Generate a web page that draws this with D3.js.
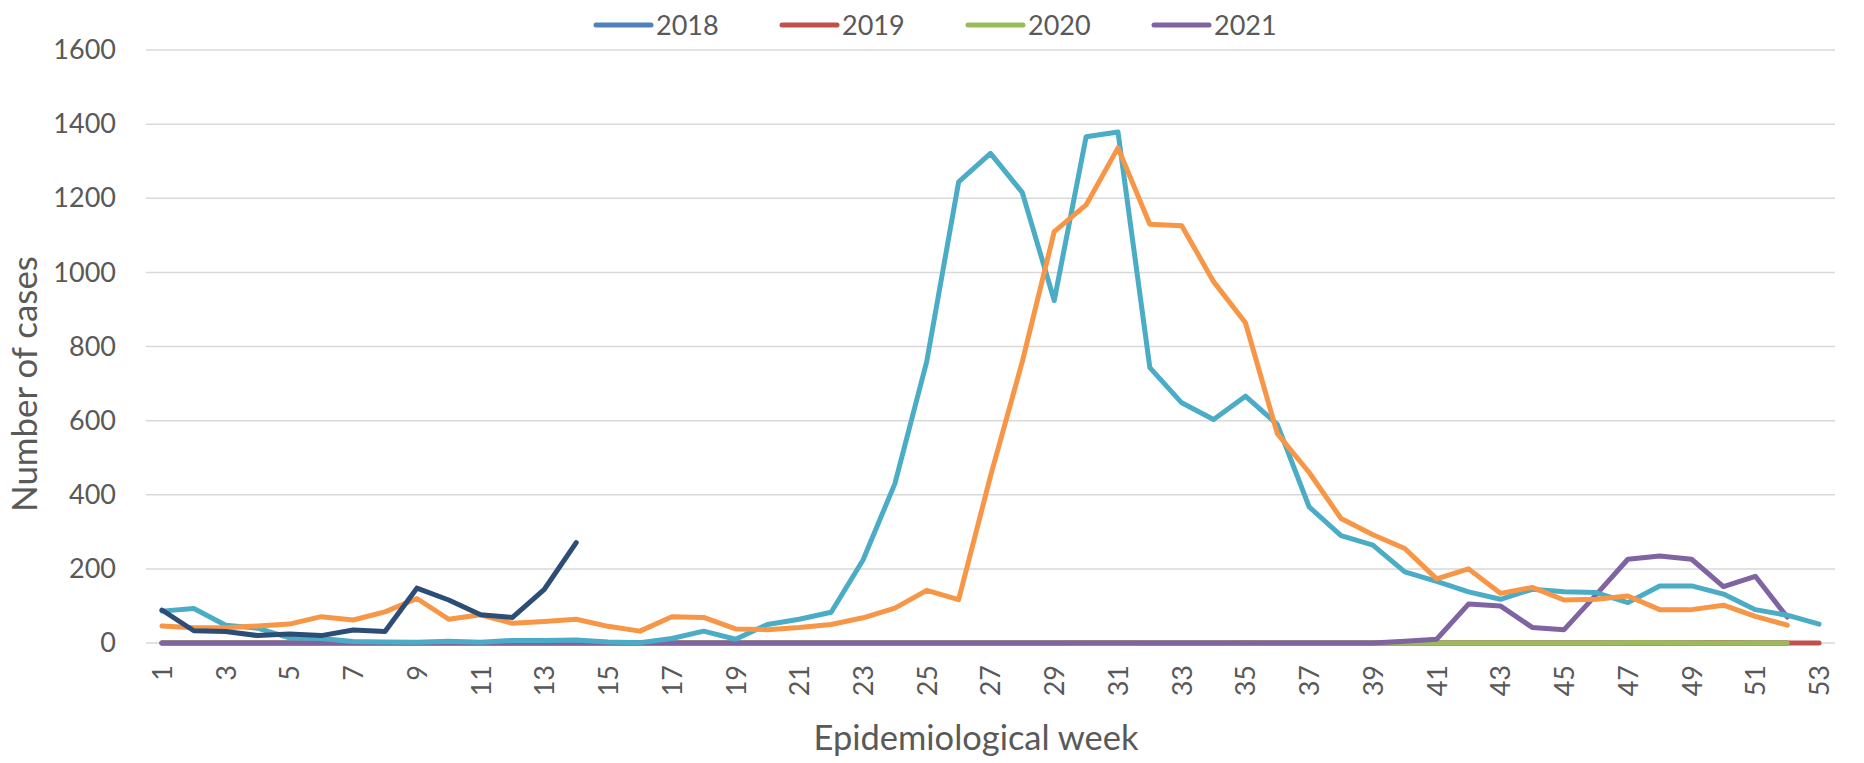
<!DOCTYPE html>
<html>
<head>
<meta charset="utf-8">
<script src="https://cdn.jsdelivr.net/npm/d3@7"></script>
<style>
  body { margin: 0; background: #fff; }
  svg text { font-family: Lato, "Open Sans", sans-serif; fill: #595959; }
</style>
</head>
<body>
<svg id="chart" width="1864" height="763"></svg>
<script>
// Epidemiological weeks (categories)
const weeks = [1, 2, 3, 4, 5, 6, 7, 8, 9, 10, 11, 12, 13, 14, 15, 16, 17, 18, 19, 20,
  21, 22, 23, 24, 25, 26, 27, 28, 29, 30, 31, 32, 33, 34, 35, 36, 37, 38, 39, 40,
  41, 42, 43, 44, 45, 46, 47, 48, 49, 50, 51, 52, 53];

const yTicks = [0, 200, 400, 600, 800, 1000, 1200, 1400, 1600];

// Weekly case counts per year
const cases2018 = [0, 0, 0, 0, 0, 0, 0, 0, 0, 0, 0, 0, 0, 0, 0, 0, 0, 0, 0, 0,
  0, 0, 0, 0, 0, 0, 0, 0, 0, 0, 0, 0, 0, 0, 0, 0, 0, 0, 0, 0,
  0, 0, 0, 0, 0, 0, 0, 0, 0, 0, 0, 0];
const cases2019 = [0, 0, 0, 0, 0, 0, 0, 0, 0, 0, 0, 0, 0, 0, 0, 0, 0, 0, 0, 0,
  0, 0, 0, 0, 0, 0, 0, 0, 0, 1, 1, 0, 0, 0, 1, 0, 0, 0, 0, 0,
  0, 0, 0, 0, 0, 0, 0, 0, 0, 1, 0, 0, 0];
const cases2020 = [0, 0, 0, 0, 0, 0, 0, 0, 0, 0, 0, 0, 0, 0, 0, 0, 0, 0, 0, 0,
  0, 0, 0, 0, 0, 0, 0, 0, 0, 0, 0, 0, 0, 0, 0, 0, 0, 0, 0, 0,
  0, 0, 0, 0, 0, 0, 1, 1, 0, 0, 0, 0];
const cases2021 = [0, 0, 0, 0, 0, 0, 0, 0, 0, 0, 0, 0, 0, 0, 0, 0, 0, 0, 0, 0,
  0, 0, 0, 0, 0, 0, 0, 0, 0, 0, 0, 0, 0, 0, 0, 0, 0, 0, 0, 5,
  10, 105, 100, 42, 36, 130, 226, 235, 226, 152, 180, 70];
const cases2022 = [86, 93, 48, 40, 14, 12, 4, 3, 2, 5, 2, 7, 7, 8, 3, 1, 12, 32, 10, 50,
  64, 83, 224, 430, 760, 1244, 1321, 1215, 924, 1366, 1379, 743, 648, 603, 666, 590, 367, 290, 264, 192,
  166, 138, 118, 145, 138, 136, 109, 154, 154, 132, 90, 75, 51];
const cases2023 = [46, 41, 41, 46, 51, 71, 62, 84, 120, 64, 76, 53, 58, 64, 45, 32, 71, 69, 38, 36,
  42, 50, 68, 94, 142, 117, 450, 760, 1110, 1182, 1336, 1130, 1126, 975, 864, 565, 460, 336, 292, 255,
  173, 200, 134, 150, 116, 118, 127, 90, 90, 102, 72, 48];
const cases2024 = [89, 33, 31, 20, 24, 20, 35, 31, 148, 116, 76, 69, 145, 271];

const series = [
  { name: "2018", values: cases2018, color: "#4F81BD", legend: true },
  { name: "2019", values: cases2019, color: "#C0504D", legend: true },
  { name: "2020", values: cases2020, color: "#9BBB59", legend: true },
  { name: "2021", values: cases2021, color: "#8064A2", legend: true },
  { name: "2022", values: cases2022, color: "#4BACC6", legend: false },
  { name: "2023", values: cases2023, color: "#F79646", legend: false },
  { name: "2024", values: cases2024, color: "#2C4D75", legend: false }
];

const svg = d3.select("#chart");

const x = d3.scalePoint().domain(weeks).range([146, 1835]).padding(0.5);
const y = d3.scaleLinear().domain([0, 1600]).range([643, 50]);

// Gridlines
svg.append("g")
  .selectAll("line")
  .data(yTicks)
  .enter()
  .append("line")
  .attr("x1", 146)
  .attr("x2", 1835)
  .attr("y1", d => y(d))
  .attr("y2", d => y(d))
  .attr("stroke", "#D9D9D9")
  .attr("stroke-width", 1.5);

// Y axis labels
const yAxis = svg.append("g")
  .attr("transform", "translate(146,0)")
  .call(d3.axisLeft(y).tickValues(yTicks).tickFormat(d3.format("d")).tickSize(0).tickPadding(30));
yAxis.select(".domain").remove();
yAxis.selectAll("text").style("font-size", "27px");

// X axis labels, odd weeks only, rotated
const xAxis = svg.append("g")
  .attr("transform", "translate(0,643)")
  .call(d3.axisBottom(x).tickValues(weeks.filter(w => w % 2 === 1)).tickSize(0));
xAxis.select(".domain").remove();
xAxis.selectAll("text")
  .style("font-size", "27px")
  .style("text-anchor", "end")
  .attr("transform", "rotate(-90)")
  .attr("x", -22)
  .attr("y", 0)
  .attr("dy", "0.35em");

// Lines
const line = d3.line()
  .x((d, i) => x(weeks[i]))
  .y(d => y(d));

svg.append("g")
  .selectAll("path")
  .data(series)
  .enter()
  .append("path")
  .attr("d", d => line(d.values))
  .attr("fill", "none")
  .attr("stroke", d => d.color)
  .attr("stroke-width", 5)
  .attr("stroke-linejoin", "round")
  .attr("stroke-linecap", "round");

// Axis titles, sized to the reference's widths
function fitText(sel, target) {
  const len = sel.node().getComputedTextLength();
  const size = parseFloat(sel.style("font-size"));
  sel.style("font-size", (size * target / len) + "px");
}

const xTitle = svg.append("text")
  .attr("x", 976)
  .attr("y", 750)
  .attr("text-anchor", "middle")
  .style("font-size", "34px")
  .text("Epidemiological week");
fitText(xTitle, 325);

const yTitle = svg.append("text")
  .attr("transform", "translate(37,384) rotate(-90)")
  .attr("text-anchor", "middle")
  .style("font-size", "34px")
  .text("Number of cases");
fitText(yTitle, 256);

// Legend
const legend = svg.append("g")
  .selectAll("g")
  .data(series.filter(s => s.legend))
  .enter()
  .append("g")
  .attr("transform", (d, i) => "translate(" + (596 + i * 186) + ",25)");

legend.append("line")
  .attr("x1", 0)
  .attr("x2", 55)
  .attr("stroke", d => d.color)
  .attr("stroke-width", 5)
  .attr("stroke-linecap", "round");

legend.append("text")
  .attr("x", 60)
  .attr("dy", "0.36em")
  .style("font-size", "27px")
  .text(d => d.name);
</script>
</body>
</html>
